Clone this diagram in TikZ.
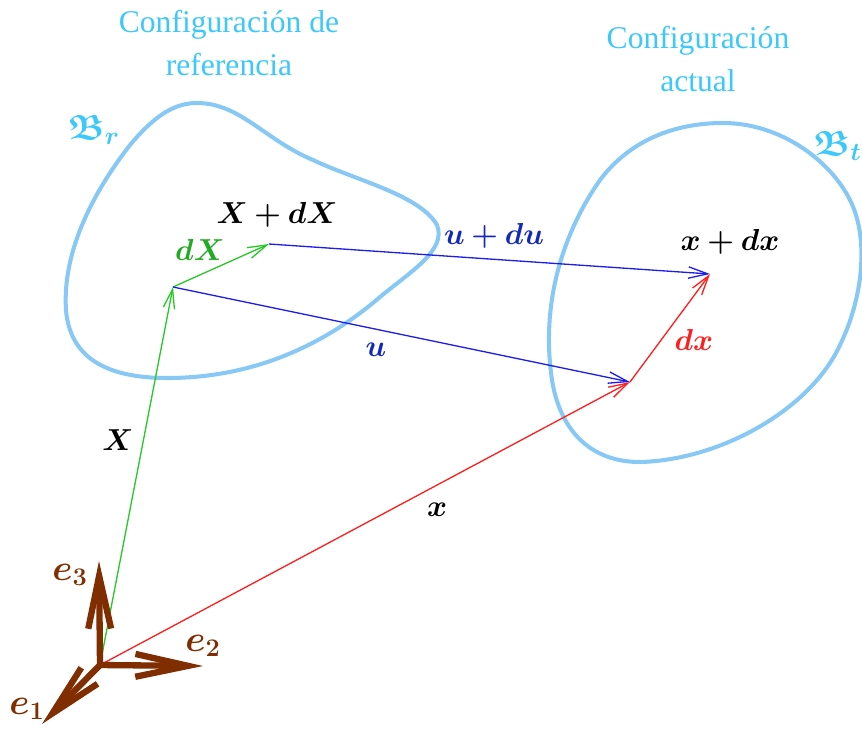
\documentclass[tikz,border=0pt]{standalone}
\usepackage{fontspec}
\setmainfont{Liberation Serif}
\usepackage{amssymb,bm}
\usetikzlibrary{arrows.meta}
\definecolor{titlecol}{RGB}{60,200,250}
\definecolor{blobcol}{RGB}{135,200,245}
\definecolor{greencol}{RGB}{40,200,40}
\definecolor{bluecol}{RGB}{30,30,235}
\definecolor{ulabel}{RGB}{20,40,190}
\definecolor{redcol}{RGB}{255,30,30}
\definecolor{browncol}{RGB}{128,45,0}
\newcommand{\esub}[1]{\mbox{\fontsize{15}{15}\selectfont$\bm{#1}$}}
\tikzset{
  titletext/.style={text=titlecol, align=center, font=\fontsize{18}{24}\selectfont},
  blob/.style={draw=blobcol, line width=2.3pt},
  vec/.style={line width=0.75pt, -{Straight Barb[length=11pt,width=6.5pt]}},
  axis/.style={draw=browncol, line width=3.6pt, -{Straight Barb[length=30pt,width=13pt,line width=3.6pt]}},
  lbl/.style={font=\fontsize{18}{20}\selectfont, inner sep=1pt},
  elbl/.style={text=browncol, font=\fontsize{21}{22}\selectfont, inner sep=1pt},
  blbl/.style={text=titlecol, font=\fontsize{20}{22}\selectfont, inner sep=1pt},
}
\begin{document}
\begin{tikzpicture}[x=0.02cm,y=-0.02cm]
\useasboundingbox (0,0) rectangle (862,728);
% titles
\node[titletext] (t1) at (229,43) {Configuración de\\referencia};
\node[titletext] (t2) at (698,59) {Configuración\\actual};
% bodies
\draw[blob] (197,103) .. controls (240,103) and (265,140) .. (313,160)
  .. controls (355,180) and (420,195) .. (437,225)
  .. controls (447,250) and (410,272) .. (380,297)
  .. controls (330,340) and (260,378) .. (167,378)
  .. controls (110,378) and (70,360) .. (66,310)
  .. controls (62,250) and (95,190) .. (130,145)
  .. controls (155,115) and (175,103) .. (197,103) -- cycle;
\draw[blob] (723,123) .. controls (780,123) and (830,160) .. (850,200)
  .. controls (870,240) and (862,300) .. (840,345)
  .. controls (810,410) and (720,460) .. (640,462)
  .. controls (590,462) and (560,430) .. (552,380)
  .. controls (540,300) and (565,230) .. (600,180)
  .. controls (630,140) and (675,123) .. (723,123) -- cycle;
\node[blbl] (br) at (94,130) {$\bm{\mathfrak{B}}_{\bm{r}}$};
\node[blbl, anchor=east, inner xsep=0pt] (bt) at (862,146) {$\bm{\mathfrak{B}}_{\bm{t}}$};
% points
\coordinate (O) at (100,665);
\coordinate (P) at (173,287);
\coordinate (Q) at (269,244);
\coordinate (R) at (630,382);
\coordinate (S) at (710,274);
\coordinate (E1) at (42,724);
\coordinate (E2) at (203,666);
\coordinate (E3) at (99,561);
% vectors
\draw[vec, draw=redcol] (O) -- (R);
\draw[vec, draw=greencol] (O) -- (P);
\draw[vec, draw=greencol] (P) -- (Q);
\draw[vec, draw=bluecol] (P) -- (R);
\draw[vec, draw=bluecol] (Q) -- (S);
\draw[vec, draw=redcol] (R) -- (S);
% axes
\draw[axis] (O) -- (E3);
\draw[axis] (O) -- (E2);
\draw[axis] (O) -- (E1);
% labels
\node[elbl] (le3) at (70,575) {$\bm{e}_{\esub{3}}$};
\node[elbl] (le2) at (203,646) {$\bm{e}_{\esub{2}}$};
\node[elbl] (le1) at (27,709) {$\bm{e}_{\esub{1}}$};
\node[lbl] (lX) at (118,440) {$\bm{X}$};
\node[lbl, text=greencol!85!black] (ldX) at (200,250) {$\bm{dX}$};
\node[lbl] (lXdX) at (277,215) {$\bm{X+dX}$};
\node[lbl, text=ulabel] (lu) at (376,350) {$\bm{u}$};
\node[lbl, text=ulabel] (ludu) at (494,236) {$\bm{u+du}$};
\node[lbl] (lx) at (437,510) {$\bm{x}$};
\node[lbl, text=redcol] (ldx) at (694,340) {$\bm{dx}$};
\node[lbl] (lxdx) at (730,242) {$\bm{x+dx}$};
\end{tikzpicture}
\end{document}
